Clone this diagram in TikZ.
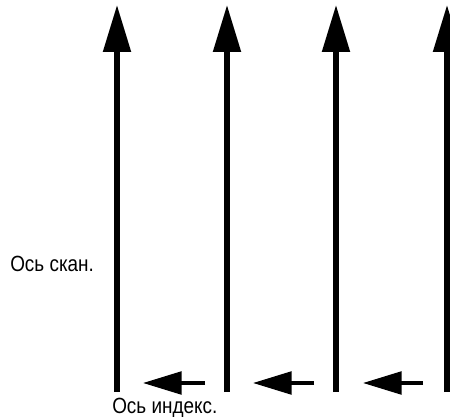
\documentclass[tikz,border=0pt]{standalone}
\usepackage{fontspec}
\setmainfont{Liberation Sans}[FakeStretch=0.86]
\usetikzlibrary{arrows.meta}
\begin{document}
\begin{tikzpicture}[x=0.75pt,y=-0.75pt,
  scanarrow/.style={line width=3.9pt,-{Triangle[length=35.25pt,width=20.25pt]}},
  idxarrow/.style={line width=2.6pt,-{Triangle[length=29pt,width=17pt]}},
  lbl/.style={inner sep=0pt,anchor=base west,font=\fontsize{16.5}{18}\selectfont}]
\useasboundingbox (0,0) rectangle (450,417);
\foreach \n/\x in {a/117,b/227,c/336,d/447}{
  \coordinate (\n0) at (\x,392);
  \coordinate (\n1) at (\x,5);
  \draw[scanarrow] (\n0) -- (\n1);
}
\foreach \n/\s/\e in {p/205/143,q/314/253,r/423/363}{
  \coordinate (\n0) at (\s,383);
  \coordinate (\n1) at (\e,383);
  \draw[idxarrow] (\n0) -- (\n1);
}
\node[lbl] (scan) at (10,272) {Ось скан.};
\node[lbl] (index) at (112,413) {Ось индекс.};
\end{tikzpicture}
\end{document}
